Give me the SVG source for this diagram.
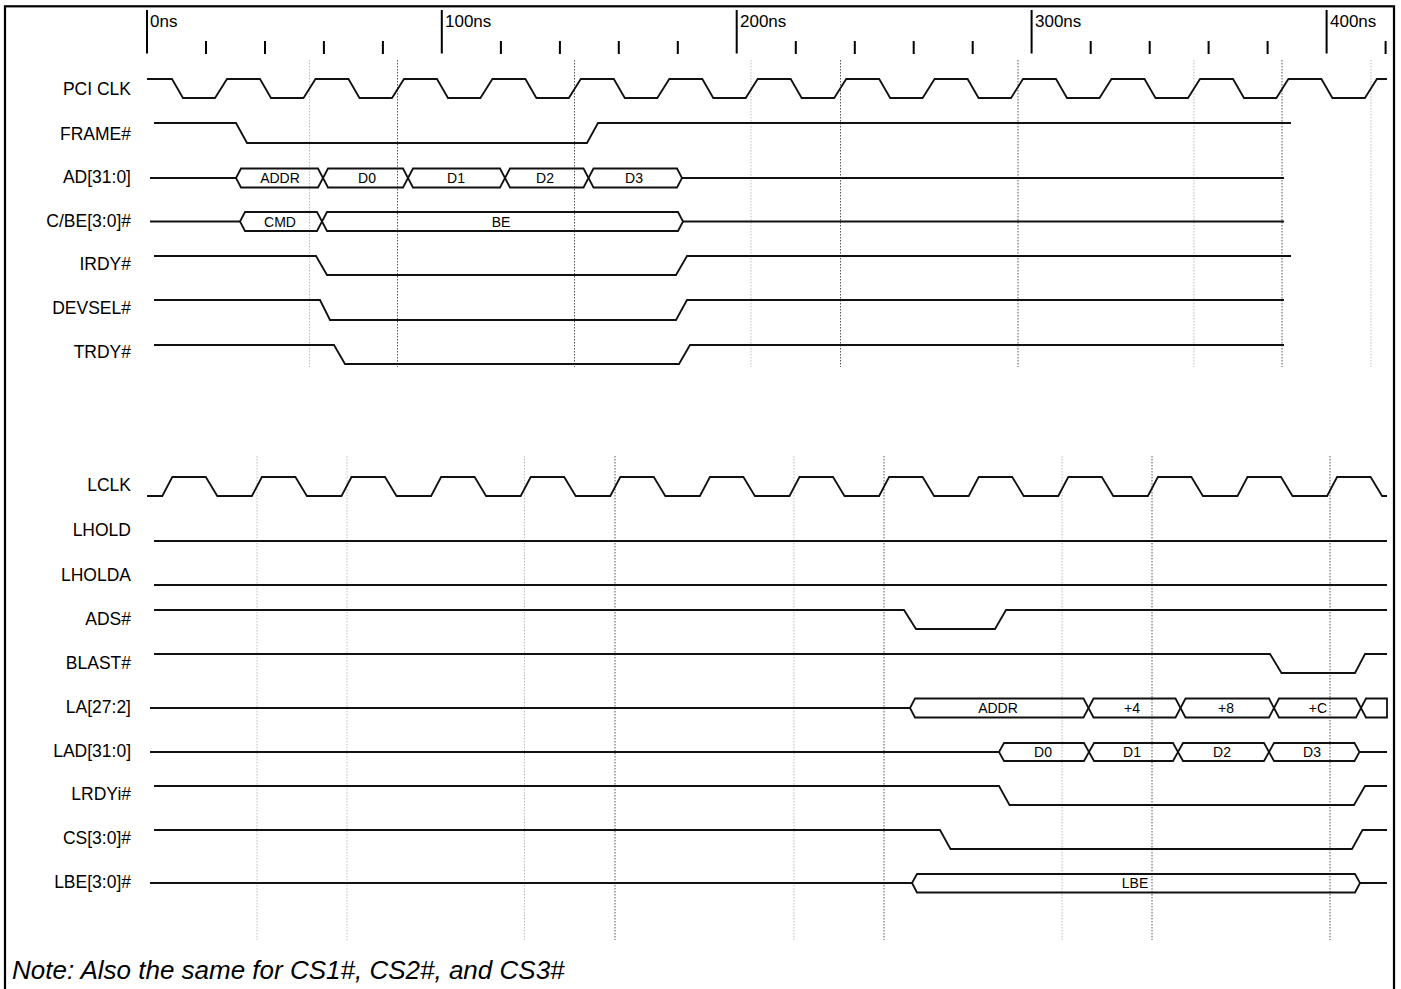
<svg xmlns="http://www.w3.org/2000/svg" width="1401" height="989" viewBox="0 0 1401 989">
<style>
.lbl{font-family:"Liberation Sans",Arial,sans-serif;font-size:17.5px;fill:#000;text-anchor:end}
.rul{font-family:"Liberation Sans",Arial,sans-serif;font-size:17px;fill:#000}
.bt{font-family:"Liberation Sans",Arial,sans-serif;font-size:14px;fill:#000;text-anchor:middle}
.note{font-family:"Liberation Sans",Arial,sans-serif;font-size:26px;font-style:italic;fill:#000}
.w{fill:none;stroke:#111;stroke-width:1.8;stroke-linejoin:miter}
.bus{fill:none;stroke:#111;stroke-width:1.8}
.tk{stroke:#000;stroke-width:2}
.dl{stroke:#bdbdbd;stroke-width:1;stroke-dasharray:1.5 1.5}
.dd{stroke:#555;stroke-width:1;stroke-dasharray:1.5 1.5}
</style>
<rect x="0" y="0" width="1401" height="989" fill="#fff"/>
<rect x="5" y="6.3" width="1389" height="1010" fill="none" stroke="#000" stroke-width="2.2"/>

<g id="ruler">
<path class="tk" d="M147,10V53.5M441.8,10V53.5M736.7,10V53.5M1031.6,10V53.5M1326.6,10V53.5"/>
<path class="tk" d="M206,41V54M265,41V54M323.9,41V54M382.9,41V54M500.9,41V54M559.9,41V54M618.8,41V54M677.8,41V54M795.8,41V54M854.8,41V54M913.7,41V54M972.7,41V54M1090.7,41V54M1149.7,41V54M1208.6,41V54M1267.6,41V54M1385.6,41V54"/>
<text class="rul" x="150" y="27">0ns</text>
<text class="rul" x="445" y="27">100ns</text>
<text class="rul" x="740" y="27">200ns</text>
<text class="rul" x="1035" y="27">300ns</text>
<text class="rul" x="1330" y="27">400ns</text>
</g>

<g id="gridlines">
<path class="dl" d="M309.5,60V367M751,60V367M1194,60V367M1371,60V367"/>
<path class="dd" d="M397.5,60V367M574.5,60V367M840.5,60V367M1018,60V367M1282,60V367"/>
<path class="dl" d="M257,456V940M347,456V940M524.5,456V940M794,456V940M1062,456V940"/>
<path class="dd" d="M615,456V940M884,456V940M1152,456V940M1330,456V940"/>
</g>

<g id="sig-pciclk">
<text class="lbl" x="131" y="94.5">PCI CLK</text>
<path class="w" d="M147,79H172L183,98H215L227,79H260L271,98H303.5L315.5,79H348.5L359.5,98H392L404,79H437L448,98H480.4L492.4,79H525.4L536.4,98H568.8L580.8,79H613.8L624.8,98H657.3L669.3,79H702.3L713.3,98H745.7L757.7,79H790.7L801.7,98H834.2L846.2,79H879.2L890.2,98H922.6L934.6,79H967.6L978.6,98H1011L1023,79H1056L1067,98H1099.5L1111.5,79H1144.5L1155.5,98H1188L1200,79H1233L1244,98H1276.4L1288.4,79H1321.4L1332.4,98H1364.9L1376.9,79H1387"/>
</g>
<g id="sig-frame">
<text class="lbl" x="131" y="139.5">FRAME#</text>
<path class="w" d="M154,123H236L247,143H587L598,123H1291"/>
</g>
<g id="sig-ad">
<text class="lbl" x="131" y="183">AD[31:0]</text>
<path class="w" d="M150,178H236M682,178H1284"/>
<path class="bus" d="M236,178L241,168.5H318L323,178L318,187.5H241Z"/>
<path class="bus" d="M323,178L328,168.5H403L408,178L403,187.5H328Z"/>
<path class="bus" d="M408,178L413,168.5H500L505,178L500,187.5H413Z"/>
<path class="bus" d="M505,178L510,168.5H583.5L588.5,178L583.5,187.5H510Z"/>
<path class="bus" d="M588.5,178L593.5,168.5H677L682,178L677,187.5H593.5Z"/>
<text class="bt" x="280" y="183">ADDR</text>
<text class="bt" x="367" y="183">D0</text>
<text class="bt" x="456" y="183">D1</text>
<text class="bt" x="545" y="183">D2</text>
<text class="bt" x="634" y="183">D3</text>
</g>
<g id="sig-cbe">
<text class="lbl" x="131" y="227">C/BE[3:0]#</text>
<path class="w" d="M150,221.5H240M683,221.5H1284"/>
<path class="bus" d="M240,221.5L245,212H317L322,221.5L317,231H245Z"/>
<path class="bus" d="M322,221.5L327,212H678L683,221.5L678,231H327Z"/>
<text class="bt" x="280" y="226.5">CMD</text>
<text class="bt" x="501" y="226.5">BE</text>
</g>
<g id="sig-irdy">
<text class="lbl" x="131" y="270">IRDY#</text>
<path class="w" d="M154,256H316L327,275H676L687,256H1291"/>
</g>
<g id="sig-devsel">
<text class="lbl" x="131" y="314">DEVSEL#</text>
<path class="w" d="M154,300H320L330,320H676L687,300H1284"/>
</g>
<g id="sig-trdy">
<text class="lbl" x="131" y="358">TRDY#</text>
<path class="w" d="M154,345H334L345,364H679L690,345H1284"/>
</g>

<g id="sig-lclk">
<text class="lbl" x="131" y="491">LCLK</text>
<path class="w" d="M147,496H162.3L172.3,477H205.8L217.3,496H251.9L261.9,477H295.4L306.9,496H341.5L351.5,477H385L396.5,496H431.1L441.1,477H474.6L486.1,496H520.7L530.7,477H564.2L575.7,496H610.3L620.3,477H653.8L665.3,496H699.9L709.9,477H743.4L754.9,496H789.5L799.5,477H833L844.5,496H879.1L889.1,477H922.6L934.1,496H968.7L978.7,477H1012.2L1023.7,496H1058.3L1068.3,477H1101.8L1113.3,496H1147.9L1157.9,477H1191.4L1202.9,496H1237.5L1247.5,477H1281L1292.5,496H1327.1L1337.1,477H1370.6L1382.1,496H1387"/>
</g>
<g id="sig-lhold">
<text class="lbl" x="131" y="536">LHOLD</text>
<path class="w" d="M154,541H1387"/>
</g>
<g id="sig-lholda">
<text class="lbl" x="131" y="580.5">LHOLDA</text>
<path class="w" d="M154,585H1387"/>
</g>
<g id="sig-ads">
<text class="lbl" x="131" y="625">ADS#</text>
<path class="w" d="M154,610H904L916,629H995L1006,610H1387"/>
</g>
<g id="sig-blast">
<text class="lbl" x="131" y="669">BLAST#</text>
<path class="w" d="M154,654H1270L1281.5,673H1355L1365,654H1387"/>
</g>
<g id="sig-la">
<text class="lbl" x="131" y="713">LA[27:2]</text>
<path class="w" d="M150,708H910"/>
<path class="bus" d="M910,708L915,698.5H1083.5L1088.5,708L1083.5,717.5H915Z"/>
<path class="bus" d="M1088.5,708L1093.5,698.5H1175.5L1180.5,708L1175.5,717.5H1093.5Z"/>
<path class="bus" d="M1180.5,708L1185.5,698.5H1269L1274,708L1269,717.5H1185.5Z"/>
<path class="bus" d="M1274,708L1279,698.5H1356L1361,708L1356,717.5H1279Z"/>
<path class="bus" d="M1361,708L1366,698.5H1387V717.5H1366Z"/>
<text class="bt" x="998" y="713">ADDR</text>
<text class="bt" x="1132" y="713">+4</text>
<text class="bt" x="1226" y="713">+8</text>
<text class="bt" x="1318" y="713">+C</text>
</g>
<g id="sig-lad">
<text class="lbl" x="131" y="757">LAD[31:0]</text>
<path class="w" d="M150,752H999M1359.5,752H1387"/>
<path class="bus" d="M999,752L1004,743H1084L1089,752L1084,761H1004Z"/>
<path class="bus" d="M1089,752L1094,743H1173L1178,752L1173,761H1094Z"/>
<path class="bus" d="M1178,752L1183,743H1264L1269,752L1264,761H1183Z"/>
<path class="bus" d="M1269,752L1274,743H1354.5L1359.5,752L1354.5,761H1274Z"/>
<text class="bt" x="1043" y="757">D0</text>
<text class="bt" x="1132" y="757">D1</text>
<text class="bt" x="1222" y="757">D2</text>
<text class="bt" x="1312" y="757">D3</text>
</g>
<g id="sig-lrdyi">
<text class="lbl" x="131" y="800">LRDYi#</text>
<path class="w" d="M154,786H999L1009.5,805H1354L1365,786H1387"/>
</g>
<g id="sig-cs">
<text class="lbl" x="131" y="844">CS[3:0]#</text>
<path class="w" d="M154,830H940L950.5,849H1352L1362.5,830H1387"/>
</g>
<g id="sig-lbe">
<text class="lbl" x="131" y="888">LBE[3:0]#</text>
<path class="w" d="M150,883H912M1360,883H1387"/>
<path class="bus" d="M912,883L917,874H1355L1360,883L1355,892.5H917Z"/>
<text class="bt" x="1135" y="888">LBE</text>
</g>

<text class="note" x="12" y="979">Note: Also the same for CS1#, CS2#, and CS3#</text>
</svg>
